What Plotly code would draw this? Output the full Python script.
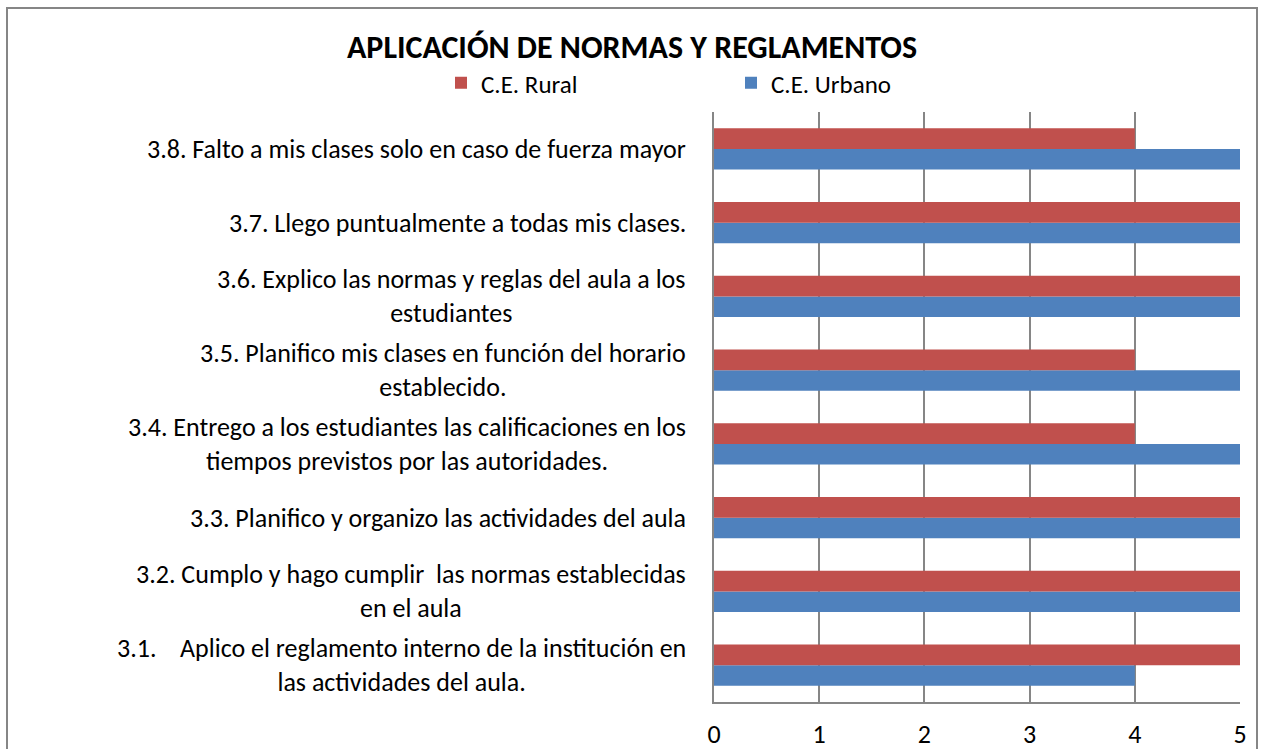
import plotly.graph_objects as go

categories = [
    "3.1.    Aplico el reglamento interno de la institución en<br>las actividades del aula.",
    "3.2. Cumplo y hago cumplir  las normas establecidas<br>en el aula",
    "3.3. Planifico y organizo las actividades del aula",
    "3.4. Entrego a los estudiantes las calificaciones en los<br>tiempos previstos por las autoridades.",
    "3.5. Planifico mis clases en función del horario<br>establecido.",
    "3.6. Explico las normas y reglas del aula a los<br>estudiantes",
    "3.7. Llego puntualmente a todas mis clases.",
    "3.8. Falto a mis clases solo en caso de fuerza mayor",
]
rural = [5, 5, 5, 4, 4, 5, 5, 4]
urbano = [4, 5, 5, 5, 5, 5, 5, 5]
x_ticks = [0, 1, 2, 3, 4, 5]

FONT = "Carlito, Liberation Sans Narrow, Arial Narrow, Liberation Sans, sans-serif"
W, H = 1267, 749
L, R, T, B = 714, 27, 112, 47
pw, ph = W - L - R, H - T - B

fig = go.Figure()
fig.add_trace(go.Bar(y=categories, x=urbano, orientation="h", name="C.E. Urbano",
                     marker=dict(color="#4F81BD", line=dict(width=0)), legendrank=2))
fig.add_trace(go.Bar(y=categories, x=rural, orientation="h", name="C.E. Rural",
                     marker=dict(color="#C0504D", line=dict(width=0)), legendrank=1))

for i, c in enumerate(categories):
    fig.add_annotation(x=-(L - 688) / pw, xref="paper", y=c, yref="y", text=c,
                       showarrow=False, xanchor="right", yanchor="middle", align="center",
                       font=dict(family=FONT, size=26, color="#000000"))

fig.add_shape(type="rect", xref="paper", yref="paper",
              x0=(7 - L) / pw, x1=(1257 - L) / pw,
              y0=((H - B) - 760) / ph, y1=((H - B) - 8) / ph,
              line=dict(color="#868686", width=2), fillcolor="rgba(0,0,0,0)", layer="below")

fig.update_layout(
    width=W, height=H,
    margin=dict(l=L, r=R, t=T, b=B, autoexpand=False),
    paper_bgcolor="white", plot_bgcolor="white",
    barmode="group", bargap=0.444, bargroupgap=0,
    title=dict(text="<b>APLICACIÓN DE NORMAS Y REGLAMENTOS</b>", x=632 / W, xanchor="center",
               y=1 - 47 / H, yanchor="middle", xref="container", yref="container",
               font=dict(family=FONT, size=32, color="#000000")),
    legend=dict(orientation="h", xref="paper", yref="paper",
                x=(441 - L) / pw, xanchor="left", y=((H - B) - 83) / ph,
                yanchor="middle", font=dict(family=FONT, size=25, color="#000000"),
                bgcolor="rgba(0,0,0,0)", itemwidth=30, entrywidth=245, traceorder="normal"),
    font=dict(family=FONT, size=24, color="#000000"),
    showlegend=True,
)
fig.update_xaxes(range=[0, 5], tickvals=x_ticks, showgrid=True, gridcolor="#868686", gridwidth=2,
                 showline=True, linecolor="#868686", linewidth=2, zeroline=False,
                 ticks="", ticklabelstandoff=8, tickfont=dict(family=FONT, size=26, color="#000000"),
                 fixedrange=True)
fig.update_yaxes(showticklabels=False, showline=True, linecolor="#868686", linewidth=2,
                 showgrid=False, ticks="", categoryorder="array", categoryarray=categories,
                 fixedrange=True)

fig.write_html("out.html")
